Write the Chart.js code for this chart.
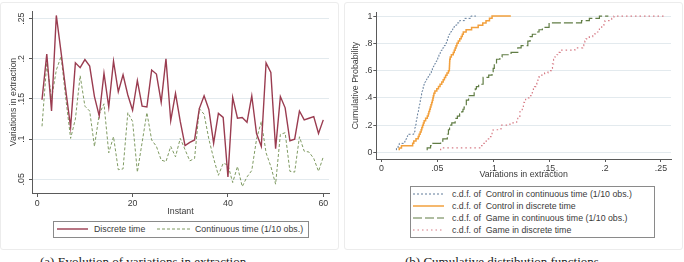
<!DOCTYPE html>
<html>
<head>
<meta charset="utf-8">
<script src="https://cdn.jsdelivr.net/npm/chart.js@4/dist/chart.umd.min.js"></script>
<style>
  body { margin: 0; background: #fff; width: 684px; height: 262px; overflow: hidden; position: relative;
         font-family: "Liberation Sans", Arial, sans-serif; color: #3a3a3a; }
  .panel { position: absolute; border: 1px solid #ececec; border-radius: 3px; background: #fff; }
  #panelA { left: 0px; top: 2px; width: 337px; height: 246px; }
  #panelB { left: 344px; top: 2px; width: 337px; height: 246px; }
  canvas { position: absolute; }
  #leftChart { left: 0; top: 0; }
  #rightChart { left: 342px; top: 0; }
  .legend { position: absolute; border: 1px solid #8a8a8a; background: #fff; font-size: 8.8px; white-space: pre; }
  .legend .item { position: absolute; height: 12px; line-height: 12px; }
  .legend svg { position: absolute; top: 0; }
  .legend span { position: absolute; top: 0; }
  #legendA { left: 53px; top: 221px; width: 254px; height: 15px; }
  #legendB { left: 410px; top: 186px; width: 243px; height: 50px; }
  .caption { position: absolute; top: 255px; font-family: "Liberation Serif", "DejaVu Serif", serif;
             font-size: 13px; line-height: 1; color: #1a1a1a; white-space: nowrap; }
</style>
</head>
<body>
<div class="panel" id="panelA"></div>
<div class="panel" id="panelB"></div>
<canvas id="leftChart" width="342" height="218"></canvas>
<canvas id="rightChart" width="342" height="181"></canvas>

<div class="legend" id="legendA">
  <div class="item" style="left:3px;top:1px;width:130px">
    <svg width="32" height="12" style="left:0"><line x1="0" y1="6" x2="31" y2="6" stroke="#9a3c50" stroke-width="1.4"/></svg>
    <span style="left:37px">Discrete time</span>
  </div>
  <div class="item" style="left:103px;top:1px;width:150px">
    <svg width="35" height="12" style="left:0"><line x1="0" y1="6" x2="34" y2="6" stroke="#7f9a62" stroke-width="1" stroke-dasharray="3,2"/></svg>
    <span style="left:38px">Continuous time (1/10 obs.)</span>
  </div>
</div>

<div class="legend" id="legendB">
  <div class="item" style="left:2px;top:1px;width:240px">
    <svg width="32" height="12" style="left:0"><line x1="0" y1="6" x2="31" y2="6" stroke="#5f7a99" stroke-width="1" stroke-dasharray="2,2"/></svg>
    <span style="left:39px">c.d.f. of  Control in continuous time (1/10 obs.)</span>
  </div>
  <div class="item" style="left:2px;top:13px;width:240px">
    <svg width="32" height="12" style="left:0"><line x1="0" y1="6" x2="31" y2="6" stroke="#f2a03d" stroke-width="1.5"/></svg>
    <span style="left:39px">c.d.f. of  Control in discrete time</span>
  </div>
  <div class="item" style="left:2px;top:25px;width:240px">
    <svg width="32" height="12" style="left:0"><line x1="0" y1="6" x2="31" y2="6" stroke="#617d45" stroke-width="1.2" stroke-dasharray="9,3"/></svg>
    <span style="left:39px">c.d.f. of  Game in continuous time (1/10 obs.)</span>
  </div>
  <div class="item" style="left:2px;top:37px;width:240px">
    <svg width="32" height="12" style="left:0"><line x1="0" y1="6" x2="31" y2="6" stroke="#d67b85" stroke-width="1.2" stroke-dasharray="1.5,3"/></svg>
    <span style="left:39px">c.d.f. of  Game in discrete time</span>
  </div>
</div>

<div class="caption" style="left:40px">(a) Evolution of variations in extraction</div>
<div class="caption" style="left:405px">(b) Cumulative distribution functions</div>

<script>
// ---- left panel: variations in extraction per instant ----
const instants = [1, 2, 3, 4, 5, 6, 7, 8, 9, 10, 11, 12, 13, 14, 15, 16, 17, 18, 19, 20,
  21, 22, 23, 24, 25, 26, 27, 28, 29, 30, 31, 32, 33, 34, 35, 36, 37, 38, 39, 40,
  41, 42, 43, 44, 45, 46, 47, 48, 49, 50, 51, 52, 53, 54, 55, 56, 57, 58, 59, 60];

const discreteTime = [0.149, 0.206, 0.135, 0.254, 0.208, 0.160, 0.115, 0.195, 0.189, 0.199,
  0.191, 0.153, 0.129, 0.182, 0.140, 0.197, 0.159, 0.180, 0.155, 0.136,
  0.173, 0.141, 0.140, 0.186, 0.181, 0.146, 0.200, 0.123, 0.157, 0.122,
  0.092, 0.096, 0.099, 0.138, 0.154, 0.137, 0.095, 0.132, 0.127, 0.053,
  0.152, 0.126, 0.127, 0.121, 0.154, 0.107, 0.091, 0.195, 0.183, 0.088,
  0.153, 0.139, 0.098, 0.100, 0.135, 0.124, 0.126, 0.128, 0.107, 0.124];

const continuousTime = [0.116, 0.195, 0.150, 0.186, 0.203, 0.150, 0.101, 0.125, 0.179, 0.141,
  0.135, 0.091, 0.131, 0.144, 0.083, 0.103, 0.062, 0.063, 0.133, 0.122,
  0.059, 0.096, 0.133, 0.099, 0.091, 0.074, 0.072, 0.091, 0.078, 0.101,
  0.087, 0.073, 0.076, 0.138, 0.131, 0.100, 0.076, 0.055, 0.070, 0.068,
  0.046, 0.066, 0.041, 0.053, 0.061, 0.100, 0.122, 0.083, 0.066, 0.044,
  0.106, 0.108, 0.060, 0.059, 0.103, 0.085, 0.084, 0.076, 0.060, 0.078];

const leftXTicks = [0, 20, 40, 60];
const leftYTicks = [0.05, 0.1, 0.15, 0.2, 0.25];
const leftYLabels = ['.05', '.1', '.15', '.2', '.25'];

// ---- right panel: sorted samples for the control treatments ----
const controlContinuous = [0.0135, 0.015, 0.016, 0.021, 0.022, 0.023, 0.0235, 0.029, 0.030, 0.030,
  0.0305, 0.031, 0.0312, 0.0316, 0.032, 0.0324, 0.0328, 0.0332, 0.0336, 0.034,
  0.0344, 0.0348, 0.0352, 0.0356, 0.036, 0.0364, 0.0369, 0.0374, 0.0381, 0.0389,
  0.0396, 0.0407, 0.042, 0.0434, 0.0447, 0.0456, 0.0466, 0.0476, 0.0485, 0.0495,
  0.0505, 0.0515, 0.0526, 0.0536, 0.0548, 0.056, 0.0572, 0.0582, 0.059, 0.0598,
  0.0606, 0.0613, 0.0627, 0.0639, 0.0652, 0.0675, 0.070, 0.0745, 0.080, 0.0846];

const controlDiscrete = [0.016, 0.018, 0.028, 0.029, 0.031, 0.033, 0.0338, 0.0347, 0.0356, 0.0362,
  0.0369, 0.0376, 0.0383, 0.0396, 0.0411, 0.042, 0.0425, 0.0432, 0.0438, 0.0444,
  0.045, 0.0456, 0.0461, 0.0465, 0.047, 0.0479, 0.0496, 0.0511, 0.0525, 0.054,
  0.0553, 0.0564, 0.0575, 0.0587, 0.060, 0.0608, 0.0609, 0.061, 0.0611, 0.0612,
  0.0616, 0.0626, 0.0643, 0.0652, 0.066, 0.0668, 0.0676, 0.0688, 0.0701, 0.0714,
  0.0724, 0.0733, 0.0758, 0.0807, 0.0866, 0.0907, 0.0936, 0.0967, 0.099, 0.1158];

const rightXTicks = [0, 0.05, 0.1, 0.15, 0.2, 0.25];
const rightXLabels = ['0', '.05', '.1', '.15', '.2', '.25'];
const rightYTicks = [0, 0.2, 0.4, 0.6, 0.8, 1];
const rightYLabels = ['0', '.2', '.4', '.6', '.8', '1'];

const axisColor = '#5a5a5a';
const gridColor = '#e3eaee';
const textColor = '#3a3a3a';

Chart.defaults.font.family = "'Liberation Sans', Arial, sans-serif";
Chart.defaults.font.size = 8.8;
Chart.defaults.color = textColor;

function ecdf(values) {
  const sorted = values.slice().sort((a, b) => a - b);
  return sorted.map((v, i) => ({ x: v, y: (i + 1) / sorted.length }));
}

function fixedTicks(list) {
  return scale => { scale.ticks = list.map(v => ({ value: v })); };
}

function labelFor(ticks, labels) {
  return value => {
    const i = ticks.findIndex(t => Math.abs(t - value) < 1e-9);
    return i >= 0 ? labels[i] : '';
  };
}

// Stata prints the left y labels turned on their side
const rotatedYLabels = {
  id: 'rotatedYLabels',
  afterDraw(chart) {
    const s = chart.scales.y;
    const ctx = chart.ctx;
    ctx.save();
    ctx.font = "8.8px 'Liberation Sans', Arial, sans-serif";
    ctx.fillStyle = textColor;
    ctx.textAlign = 'center';
    ctx.textBaseline = 'middle';
    leftYTicks.forEach((v, i) => {
      ctx.save();
      ctx.translate(22, s.getPixelForValue(v));
      ctx.rotate(-Math.PI / 2);
      ctx.fillText(leftYLabels[i], 0, 0);
      ctx.restore();
    });
    ctx.restore();
  }
};

new Chart(document.getElementById('leftChart'), {
  type: 'line',
  data: {
    datasets: [
      {
        label: 'Discrete time',
        data: instants.map((t, i) => ({ x: t, y: discreteTime[i] })),
        borderColor: '#9a3c50',
        borderWidth: 1.4,
        pointRadius: 0,
        tension: 0
      },
      {
        label: 'Continuous time (1/10 obs.)',
        data: instants.map((t, i) => ({ x: t, y: continuousTime[i] })),
        borderColor: '#7f9a62',
        borderWidth: 1,
        borderDash: [3, 2],
        pointRadius: 0,
        tension: 0
      }
    ]
  },
  options: {
    responsive: false,
    animation: false,
    layout: { padding: { left: 4, right: 13, top: 11, bottom: 0 } },
    plugins: { legend: { display: false }, tooltip: { enabled: false } },
    scales: {
      x: {
        type: 'linear',
        min: -1.1,
        max: 61.2,
        afterBuildTicks: fixedTicks(leftXTicks),
        afterFit: s => { s.height = 25; },
        ticks: { autoSkip: false, maxRotation: 0, padding: 1, callback: v => String(v) },
        grid: { drawOnChartArea: false, tickColor: axisColor, tickLength: 4 },
        border: { color: axisColor },
        title: { display: true, text: 'Instant', padding: { top: 0, bottom: 1 } }
      },
      y: {
        min: 0.033,
        max: 0.2595,
        afterBuildTicks: fixedTicks(leftYTicks),
        afterFit: s => { s.width = 28; },
        ticks: { display: false },
        grid: { color: gridColor, tickColor: axisColor, tickLength: 3 },
        border: { color: axisColor },
        title: { display: true, text: 'Variations in extraction', padding: { top: 4, bottom: 0 } }
      }
    }
  },
  plugins: [rotatedYLabels]
});

new Chart(document.getElementById('rightChart'), {
  type: 'line',
  data: {
    datasets: [
      {
        label: 'c.d.f. of Control in continuous time (1/10 obs.)',
        data: ecdf(controlContinuous),
        borderColor: '#5f7a99',
        borderWidth: 1,
        borderDash: [2, 2],
        stepped: 'after',
        pointRadius: 0
      },
      {
        label: 'c.d.f. of Control in discrete time',
        data: ecdf(controlDiscrete),
        borderColor: '#f2a03d',
        borderWidth: 1.5,
        stepped: 'after',
        pointRadius: 0
      },
      {
        label: 'c.d.f. of Game in continuous time (1/10 obs.)',
        data: ecdf(continuousTime),
        borderColor: '#617d45',
        borderWidth: 1.2,
        borderDash: [9, 3],
        stepped: 'after',
        pointRadius: 0
      },
      {
        label: 'c.d.f. of Game in discrete time',
        data: ecdf(discreteTime),
        borderColor: '#d67b85',
        borderWidth: 1.2,
        borderDash: [1.5, 3],
        stepped: 'after',
        pointRadius: 0
      }
    ]
  },
  options: {
    responsive: false,
    animation: false,
    layout: { padding: { left: 4, right: 13, top: 12, bottom: 0 } },
    plugins: { legend: { display: false }, tooltip: { enabled: false } },
    scales: {
      x: {
        type: 'linear',
        min: -0.0045,
        max: 0.259,
        afterBuildTicks: fixedTicks(rightXTicks),
        afterFit: s => { s.height = 22; },
        ticks: { autoSkip: false, maxRotation: 0, padding: 1, callback: labelFor(rightXTicks, rightXLabels) },
        grid: { drawOnChartArea: false, tickColor: axisColor, tickLength: 3 },
        border: { color: axisColor },
        title: { display: true, text: 'Variations in extraction', padding: { top: 0, bottom: 1 } }
      },
      y: {
        min: -0.048,
        max: 1.03,
        afterBuildTicks: fixedTicks(rightYTicks),
        afterFit: s => { s.width = 30.3; },
        ticks: { padding: 1, callback: labelFor(rightYTicks, rightYLabels) },
        grid: { color: gridColor, tickColor: axisColor, tickLength: 3 },
        border: { color: axisColor },
        title: { display: true, text: 'Cumulative Probability', padding: { top: 4, bottom: 0 } }
      }
    }
  }
});
</script>
</body>
</html>
